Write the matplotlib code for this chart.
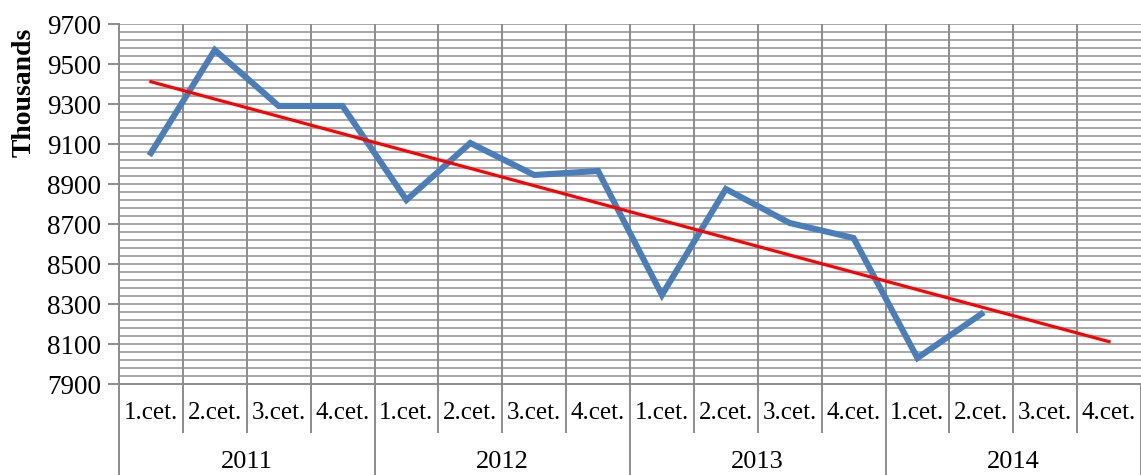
import numpy as np
import matplotlib
matplotlib.use("Agg")
import matplotlib.pyplot as plt

# quarterly values (thousands)
quarters = ["1.cet.", "2.cet.", "3.cet.", "4.cet."]
years = ["2011", "2012", "2013", "2014"]
values = [9055, 9570, 9290, 9290, 8820, 9105, 8945, 8965,
          8345, 8875, 8705, 8630, 8030, 8250]

plt.rcParams['font.family'] = ['Liberation Serif', 'DejaVu Serif']

n_cat = len(quarters) * len(years)
x = np.arange(len(values)) + 0.5

# linear trend, forecast to the end of 2014
coef = np.polyfit(np.arange(1, len(values) + 1), values, 1)
x_trend = np.arange(1, n_cat + 1)
y_trend = np.polyval(coef, x_trend)

fig = plt.figure(figsize=(11.41, 4.75), dpi=100)
ax = fig.add_axes([119 / 1141, 91 / 475, 1022 / 1141, 360 / 475])

ax.set_xlim(0, n_cat)
ax.set_ylim(7900, 9700)

# grid
for yv in np.arange(7940, 9701, 40):
    ax.axhline(yv, color="#a6a6a6", lw=1.4, zorder=1)
for xv in range(1, n_cat):
    ax.axvline(xv, color="#8c8c8c", lw=1.4, zorder=1)

ax.plot(x, values, color="#4a7ebb", lw=4.4, solid_joinstyle="miter", zorder=3)
ax.plot(x_trend - 0.5, y_trend, color="#ff0000", lw=2.3, zorder=4)

for s in ["top", "right"]:
    ax.spines[s].set_visible(False)
ax.spines["left"].set_color("#8c8c8c")
ax.spines["bottom"].set_color("#8c8c8c")
ax.spines["left"].set_linewidth(1.4)
ax.spines["bottom"].set_linewidth(1.4)

ax.set_yticks(np.arange(7900, 9701, 200))
ax.tick_params(axis="y", direction="out", length=8, width=1.4, color="#8c8c8c",
               labelsize=19.5, pad=5)
ax.set_xticks([])
ax.set_ylabel("Thousands", fontsize=20, fontweight="bold")
ax.yaxis.set_label_coords(-0.081, 0.81)

# two-level category axis
tr = ax.get_xaxis_transform()
for xv in range(0, n_cat + 1):
    if xv % 4 == 0:
        ax.plot([xv, xv], [0, -0.26], color="#8c8c8c", lw=1.4, transform=tr,
                clip_on=False)
    else:
        ax.plot([xv, xv], [0, -0.133], color="#8c8c8c", lw=1.4, transform=tr,
                clip_on=False)
for i in range(n_cat):
    ax.text(i + 0.5, -0.08, quarters[i % 4], transform=tr, ha="center",
            va="center", fontsize=18)
for j, yr in enumerate(years):
    ax.text(j * 4 + 2, -0.218, yr, transform=tr, ha="center", va="center",
            fontsize=19)

fig.savefig("out.png", dpi=100)
